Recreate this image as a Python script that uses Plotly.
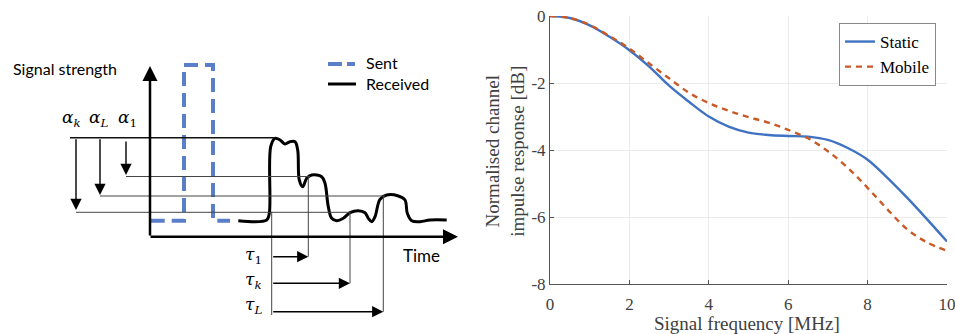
import plotly.graph_objects as go

# ---------------- Right chart data ----------------
freq_mhz = [0, 0.5, 1, 1.5, 2, 2.5, 3, 3.5, 4, 4.5, 5, 5.5, 6, 6.5, 7, 7.5, 8, 8.5, 9, 9.5, 10]
static_db = [0, -0.06, -0.28, -0.62, -1.02, -1.51, -2.08, -2.56, -3.0, -3.3, -3.48, -3.55, -3.58, -3.6, -3.7,
             -3.94, -4.29, -4.83, -5.43, -6.07, -6.73]
mobile_db = [0, -0.06, -0.27, -0.6, -0.97, -1.42, -1.86, -2.29, -2.6, -2.83, -3.02, -3.18, -3.4, -3.65, -4.04,
             -4.53, -5.13, -5.77, -6.37, -6.76, -7.01]
x_tick_vals = [0, 2, 4, 6, 8, 10]
x_tick_labels = ["0", "2", "4", "6", "8", "10"]
y_tick_vals = [-8, -6, -4, -2, 0]
y_tick_labels = ["-8", "-6", "-4", "-2", "0"]

# ---------------- Left diagram data (schematic, pixel-like units) ----------------
sent_x = [150.7, 184, 184, 213, 213, 230]
sent_y = [220.7, 220.7, 65, 65, 220.7, 220.7]
recv_x = [238.3, 266.7, 269.3, 270.7, 275, 280, 285, 290, 295, 297.7, 299.3, 302.7, 306.7, 311.7, 321.7, 325,
          328.3, 331.7, 336.7, 343.3, 350, 358.3, 365, 368.3, 371.7, 375, 380, 386.7, 398.3, 405, 407.3, 411.7,
          420, 430, 446.7]
recv_y = [220.7, 220, 213.3, 146.7, 138.3, 140, 144, 141.7, 141.7, 150, 180, 186.7, 178.3, 175, 176.7, 183.3,
          206.7, 218.3, 220.7, 218.3, 212.7, 210.7, 212.7, 218.3, 221.7, 216.7, 199.3, 195, 196, 200, 213.3, 220.7,
          221.7, 220, 220]
# reference levels: (x start, x end, y, colour, width)
level_lines = [(70, 275, 137.7, "#111111", 1.5), (126, 310, 176.5, "#444444", 1),
               (100, 385, 196, "#444444", 1), (76, 350, 212.3, "#444444", 1)]
# delay verticals: (x, y start, y end)
delay_lines = [(271.7, 211.7, 315), (308.3, 176.7, 256.7), (350, 211.7, 283.3), (383.3, 196, 311.7)]
# alpha arrows (x, y from, y to, label, label x)
alpha_arrows = [(76, 137.7, 210, "<i>α</i><sub><i>k</i></sub>", 71.7),
                (100, 137.7, 195, "<i>α</i><sub><i>L</i></sub>", 98),
                (126, 140, 175, "<i>α</i><sub>1</sub>", 127)]
alpha_label_y = 118
# tau arrows (y, x from, x to, label, label y)
tau_arrows = [(256.7, 271.7, 308.3, "<i>τ</i><sub>1</sub>", 255),
              (283.3, 271.7, 350, "<i>τ</i><sub><i>k</i></sub>", 280),
              (311.7, 271.7, 383.3, "<i>τ</i><sub><i>L</i></sub>", 305)]

W, H = 955, 334
fig = go.Figure()

# right chart traces
fig.add_trace(go.Scatter(x=freq_mhz, y=static_db, mode="lines", name="Static", line_shape="spline",
                         line=dict(color="#3f72c0", width=2.4), xaxis="x", yaxis="y"))
fig.add_trace(go.Scatter(x=freq_mhz, y=mobile_db, mode="lines", name="Mobile", line_shape="spline",
                         line=dict(color="#c85a28", width=2.4, dash="6px,5px"), xaxis="x", yaxis="y"))

# left diagram traces
fig.add_trace(go.Scatter(x=sent_x, y=sent_y, mode="lines", showlegend=False,
                         line=dict(color="#5b7ec8", width=4, dash="14px,7px"), xaxis="x2", yaxis="y2"))
fig.add_trace(go.Scatter(x=recv_x, y=recv_y, mode="lines", showlegend=False, line_shape="spline",
                         line=dict(color="black", width=3), xaxis="x2", yaxis="y2"))
for (x0, x1, y, c, w) in level_lines:
    fig.add_trace(go.Scatter(x=[x0, x1], y=[y, y], mode="lines", showlegend=False,
                             line=dict(color=c, width=w), xaxis="x2", yaxis="y2"))
for (x, y0, y1) in delay_lines:
    fig.add_trace(go.Scatter(x=[x, x], y=[y0, y1], mode="lines", showlegend=False,
                             line=dict(color="#444444", width=1), xaxis="x2", yaxis="y2"))
# legend samples of diagram
fig.add_trace(go.Scatter(x=[328, 355], y=[64, 64], mode="lines", showlegend=False,
                         line=dict(color="#5b7ec8", width=4, dash="14px,5px"), xaxis="x2", yaxis="y2"))
fig.add_trace(go.Scatter(x=[328, 356], y=[84, 84], mode="lines", showlegend=False,
                         line=dict(color="black", width=3), xaxis="x2", yaxis="y2"))

ann = []
def arrow(x, y, ax, ay, width=1.5, size=1.6):
    ann.append(dict(x=x, y=y, ax=ax, ay=ay, xref="x2", yref="y2", axref="x2", ayref="y2",
                    showarrow=True, arrowhead=2, arrowsize=size, arrowwidth=width, arrowcolor="black", text=""))

# axes of diagram
arrow(150, 66, 150, 237, 2.5, 1.2)
arrow(458, 236.7, 149, 236.7, 2.5, 1.2)
for (x, y0, y1, lab, lx) in alpha_arrows:
    arrow(x, y1, x, y0, 1.4)
    ann.append(dict(x=lx, y=alpha_label_y, xref="x2", yref="y2", text=lab, showarrow=False,
                    font=dict(family="DejaVu Serif", size=17, color="black")))
for (y, x0, x1, lab, ly) in tau_arrows:
    arrow(x1, y, x0, y, 1.4)
    ann.append(dict(x=253, y=ly, xref="x2", yref="y2", text=lab, showarrow=False,
                    font=dict(family="DejaVu Serif", size=17, color="black")))

ann.append(dict(x=11, y=68, xref="x2", yref="y2", text="Signal strength", showarrow=False, xanchor="left",
                font=dict(family="Lato", size=16, color="black")))
ann.append(dict(x=401, y=255, xref="x2", yref="y2", text="Time", showarrow=False, xanchor="left",
                font=dict(family="Lato", size=17, color="black")))
ann.append(dict(x=364, y=62, xref="x2", yref="y2", text="Sent", showarrow=False, xanchor="left",
                font=dict(family="Lato", size=16, color="black")))
ann.append(dict(x=364, y=83, xref="x2", yref="y2", text="Received", showarrow=False, xanchor="left",
                font=dict(family="Lato", size=16, color="black")))

# right chart titles
ann.append(dict(x=505 / W, y=1 - 150.7 / H, xref="paper", yref="paper", xanchor="center", yanchor="middle",
                text="Normalised channel<br>impulse response [dB]",
                textangle=-90, showarrow=False, font=dict(family="Liberation Serif", size=19, color="#404040")))
ann.append(dict(x=747 / W, y=1 - 323 / H, xref="paper", yref="paper", xanchor="center", yanchor="middle",
                text="Signal frequency [MHz]",
                showarrow=False, font=dict(family="Liberation Serif", size=19, color="#404040")))

fig.update_layout(
    width=W, height=H, margin=dict(l=0, r=0, t=0, b=0, pad=0, autoexpand=False),
    plot_bgcolor="white", paper_bgcolor="white",
    annotations=ann,
    xaxis=dict(domain=[550 / W, 947 / W], range=[0, 10], tickvals=x_tick_vals, ticktext=x_tick_labels,
               showgrid=True, gridcolor="#ebebeb", zeroline=False, showline=True, linecolor="#555555",
               ticks="inside", ticklen=4, tickcolor="#555555", automargin=False, ticklabeloverflow="allow",
               ticklabelstandoff=5,
               tickfont=dict(family="Liberation Serif", size=17, color="#404040"), anchor="y"),
    yaxis=dict(domain=[1 - 284 / H, 1 - 16 / H], range=[-8, 0], tickvals=y_tick_vals, ticktext=y_tick_labels,
               showgrid=True, gridcolor="#ebebeb", zeroline=False, showline=True, linecolor="#555555",
               ticks="inside", ticklen=4, tickcolor="#555555", automargin=False, ticklabeloverflow="allow",
               tickfont=dict(family="Liberation Serif", size=17, color="#404040"), anchor="x"),
    xaxis2=dict(domain=[0, 470 / W], range=[0, 470], visible=False, anchor="y2", automargin=False),
    yaxis2=dict(domain=[0, 1], range=[334, 0], visible=False, anchor="x2", automargin=False),
    legend=dict(x=839 / W, y=1 - 23 / H, xanchor="left", yanchor="top", bgcolor="white",
                bordercolor="#888888", borderwidth=1, font=dict(family="Liberation Serif", size=17, color="black"),
                tracegroupgap=0, itemwidth=30),
)
fig.write_html("out.html")
